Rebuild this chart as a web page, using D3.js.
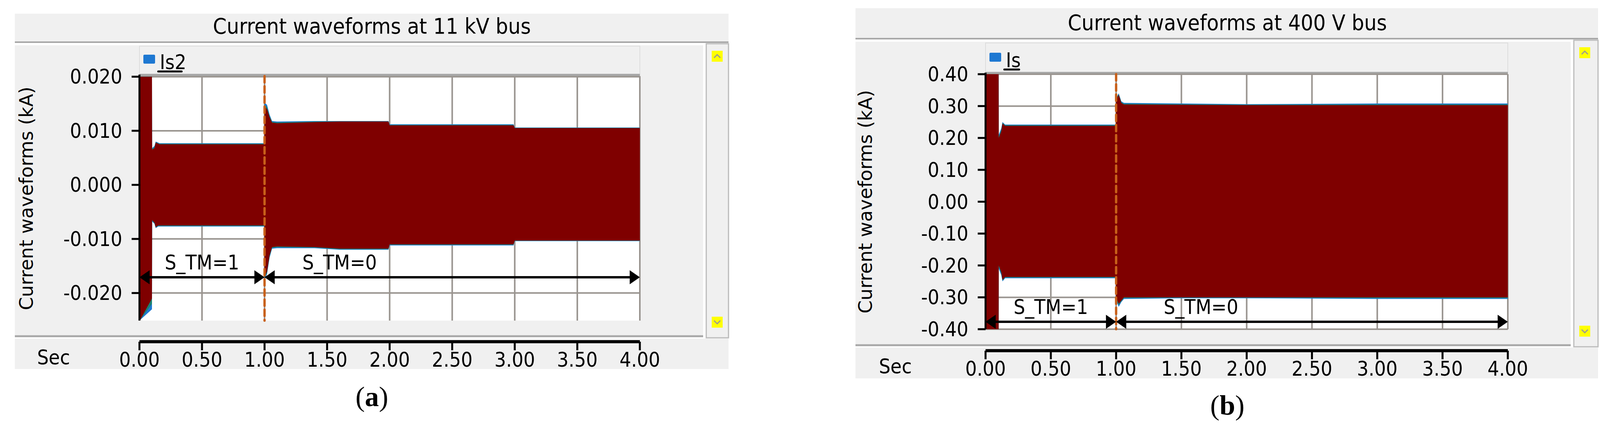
<!DOCTYPE html>
<html><head><meta charset="utf-8">
<script src="https://cdn.jsdelivr.net/npm/d3@7/dist/d3.min.js"></script>
<style>body{margin:0;background:#fff}svg{display:block}</style>
</head><body>
<svg id="c" width="4110" height="1096"></svg>
<script>
// ---- data ----
const xTicks = [0,0.5,1,1.5,2,2.5,3,3.5,4];
const yTicksA = [0.02,0.01,0,-0.01,-0.02];
const yTicksB = [0.4,0.3,0.2,0.1,0,-0.1,-0.2,-0.3,-0.4];
// envelope of panel (a) Is2, kA
const timeA  = [0,0.005,0.1,0.101,0.12,0.13,0.15,0.16,0.5,0.999,1.0,1.02,1.04,1.06,1.1,1.4,1.6,1.99,2.0,2.99,3.0,4.0];
const upperA = [0.020,0.020,0.020,0.0065,0.0068,0.0078,0.0076,0.0075,0.0075,0.0075,0.0145,0.0140,0.0125,0.0115,0.0114,0.0116,0.0117,0.0117,0.0110,0.0110,0.0105,0.0105];
const lowerA = [-0.025,-0.025,-0.021,-0.0065,-0.0070,-0.0078,-0.0075,-0.0075,-0.0075,-0.0075,-0.0170,-0.0160,-0.0130,-0.0115,-0.0114,-0.0115,-0.0118,-0.0118,-0.0110,-0.0110,-0.0103,-0.0103];
const tealUpA = [0.020,0.020,0.020,0.0068,0.0072,0.0080,0.0078,0.0077,0.0077,0.0077,0.0152,0.0148,0.0130,0.0118,0.0117,0.0118,0.0118,0.0118,0.0112,0.0112,0.0106,0.0106];
const tealLoA = [-0.025,-0.025,-0.023,-0.0068,-0.0072,-0.0080,-0.0077,-0.0077,-0.0077,-0.0077,-0.0175,-0.0165,-0.0135,-0.0118,-0.0117,-0.0117,-0.0120,-0.0120,-0.0112,-0.0112,-0.0104,-0.0104];
// envelope of panel (b) Is, kA
const timeB  = [0,0.005,0.1,0.101,0.12,0.13,0.15,0.2,0.5,0.999,1.0,1.02,1.04,1.06,1.5,2.0,3.0,4.0];
const upperB = [0.40,0.40,0.40,0.20,0.22,0.245,0.238,0.238,0.238,0.238,0.32,0.335,0.31,0.305,0.304,0.303,0.303,0.303];
const lowerB = [-0.40,-0.40,-0.40,-0.20,-0.22,-0.245,-0.236,-0.236,-0.236,-0.236,-0.30,-0.32,-0.31,-0.30,-0.30,-0.30,-0.30,-0.30];
const tealUpB = [0.40,0.40,0.40,0.21,0.23,0.25,0.242,0.242,0.242,0.242,0.325,0.34,0.315,0.31,0.308,0.306,0.308,0.308];
const tealLoB = [-0.40,-0.40,-0.40,-0.21,-0.23,-0.25,-0.24,-0.24,-0.24,-0.24,-0.31,-0.33,-0.315,-0.305,-0.303,-0.303,-0.305,-0.305];

const svg = d3.select('#c');
const narrow = '"Liberation Sans Narrow","DejaVu Sans Condensed",sans-serif';

function panel(o){
  const g = svg.append('g');
  g.append('rect').attr('x',o.fx).attr('y',o.tTop).attr('width',o.fr-o.fx).attr('height',o.tBot-o.tTop).attr('fill','#f0f0f0');
  g.append('line').attr('x1',o.fx).attr('x2',o.fr).attr('y1',o.tBot).attr('y2',o.tBot).attr('stroke','#a8a8a8').attr('stroke-width',4);
  g.append('text').attr('x',o.tcx).attr('y',o.tBot-22).attr('text-anchor','middle')
    .attr('font-family',narrow).attr('font-size',56).text(o.title);
  g.append('rect').attr('x',o.fx).attr('y',o.tBot+8).attr('width',o.sbx-o.fx-8).attr('height',o.iBot-o.tBot-8).attr('fill','#f0f0f0');
  g.append('line').attr('x1',o.fx).attr('x2',o.sbx-8).attr('y1',o.iBot).attr('y2',o.iBot).attr('stroke','#a8a8a8').attr('stroke-width',5);
  g.append('rect').attr('x',o.sbx).attr('y',o.tBot+4).attr('width',o.fr-o.sbx).attr('height',o.iBot-o.tBot).attr('fill','#f0f0f0').attr('stroke','#bbb').attr('stroke-width',3);
  [o.tBot+22, o.iBot-50].forEach((yy,i)=>{
    g.append('rect').attr('x',o.sbx+14).attr('y',yy).attr('width',28).attr('height',28).attr('fill','#ffff00');
    g.append('path').attr('d', i===0 ? `M${o.sbx+20},${yy+18} l8,-8 l8,8` : `M${o.sbx+20},${yy+10} l8,8 l8,-8`)
      .attr('fill','none').attr('stroke','#999').attr('stroke-width',3);
  });
  g.append('rect').attr('x',o.px0).attr('y',o.lTop).attr('width',o.px1-o.px0).attr('height',o.py0-o.lTop).attr('fill','#f0f0f0').attr('stroke','#ddd').attr('stroke-width',2);
  g.append('line').attr('x1',o.px0).attr('x2',o.px1).attr('y1',o.py0-3).attr('y2',o.py0-3).attr('stroke','#a8a8a8').attr('stroke-width',6);
  g.append('rect').attr('x',o.px0+10).attr('y',o.py0-55).attr('width',30).attr('height',23).attr('rx',3).attr('fill','#1e78d2');
  g.append('text').attr('x',o.px0+52).attr('y',o.py0-18).attr('font-family',narrow).attr('font-size',52).text(o.legend);
  g.append('line').attr('x1',o.px0+48).attr('x2',o.px0+48+o.ulw).attr('y1',o.py0-12).attr('y2',o.py0-12).attr('stroke','#000').attr('stroke-width',5).attr('stroke-linecap','round');

  const x = d3.scaleLinear().domain([0,4]).range([o.px0,o.px1]);
  const y = d3.scaleLinear().domain(o.ydom).range([o.py1,o.py0]);
  g.append('rect').attr('x',o.px0).attr('y',o.py0).attr('width',o.px1-o.px0).attr('height',o.py1-o.py0).attr('fill','#fff');
  g.selectAll('.vg').data(xTicks.slice(1)).enter().append('line').attr('x1',d=>x(d)).attr('x2',d=>x(d))
    .attr('y1',o.py0).attr('y2',o.py1).attr('stroke','#9a9590').attr('stroke-width',4);
  g.selectAll('.hg').data(o.yticks).enter().append('line').attr('x1',o.px0).attr('x2',o.px1)
    .attr('y1',d=>y(d)).attr('y2',d=>y(d)).attr('stroke','#9a9590').attr('stroke-width',4);
  const clip = 'clip'+o.id;
  g.append('clipPath').attr('id',clip).append('rect').attr('x',o.px0).attr('y',o.py0).attr('width',o.px1-o.px0).attr('height',o.py1-o.py0);
  const wg = g.append('g').attr('clip-path',`url(#${clip})`);
  const ta = d3.area().x((d,i)=>x(o.t[i])).y0((d,i)=>y(o.tlo[i])).y1((d,i)=>y(o.tup[i]));
  wg.append('path').datum(o.t).attr('d',ta).attr('fill','#1e78d2');
  const tb = d3.area().x((d,i)=>x(o.t[i])).y0((d,i)=>y((o.tlo[i]+o.lo[i])/2)).y1((d,i)=>y((o.tup[i]+o.up[i])/2));
  wg.append('path').datum(o.t).attr('d',tb).attr('fill','#1a8070');
  const ma = d3.area().x((d,i)=>x(o.t[i])).y0((d,i)=>y(o.lo[i])).y1((d,i)=>y(o.up[i]));
  wg.append('path').datum(o.t).attr('d',ma).attr('fill','#7f0000');
  g.append('line').attr('x1',o.px0).attr('x2',o.px0).attr('y1',o.py0-4).attr('y2',o.py1).attr('stroke','#000').attr('stroke-width',5);
  const ya = g.append('g');
  ya.selectAll('line').data(o.yticks).enter().append('line').attr('x1',o.px0-20).attr('x2',o.px0).attr('y1',d=>y(d)).attr('y2',d=>y(d)).attr('stroke','#000').attr('stroke-width',5);
  ya.selectAll('text').data(o.yticks).enter().append('text').attr('x',o.px0-44).attr('y',d=>y(d)+18).attr('text-anchor','end')
    .attr('font-family',narrow).attr('font-size',52).text(d=>d3.format(o.fmt)(d).replace('−','-'));
  g.append('text').attr('transform',`translate(${o.ylx},${(o.py0+o.py1)/2}) rotate(-90)`).attr('text-anchor','middle')
    .attr('font-family','"DejaVu Sans",sans-serif').attr('font-size',48).text('Current waveforms (kA)');
  g.append('line').attr('x1',x(1)).attr('x2',x(1)).attr('y1',o.py0).attr('y2',o.py1).attr('stroke','#c8601a').attr('stroke-width',6).attr('stroke-dasharray','16,10').attr('stroke-linecap','round');
  const ah = (xx,dir)=>`M${xx},${o.ay} l${-dir*26},-18 l0,36 Z`;
  [[0,1],[1,4]].forEach(([a,b])=>{
    g.append('line').attr('x1',x(a)+20).attr('x2',x(b)-20).attr('y1',o.ay).attr('y2',o.ay).attr('stroke','#000').attr('stroke-width',6);
    g.append('path').attr('d',ah(x(a),-1)).attr('fill','#000');
    g.append('path').attr('d',ah(x(b),1)).attr('fill','#000');
  });
  g.append('text').attr('x',x(o.l1)).attr('y',o.ay-20).attr('text-anchor','middle').attr('font-family',narrow).attr('font-size',52).text('S_TM=1');
  g.append('text').attr('x',x(o.l2)).attr('y',o.ay-20).attr('text-anchor','middle').attr('font-family',narrow).attr('font-size',52).text('S_TM=0');
  g.append('rect').attr('x',o.fx).attr('y',o.iBot+6).attr('width',o.fr-o.fx).attr('height',o.xBot-o.iBot-6).attr('fill','#f0f0f0');
  g.append('line').attr('x1',o.px0).attr('x2',o.px1).attr('y1',o.iBot+14).attr('y2',o.iBot+14).attr('stroke','#000').attr('stroke-width',8);
  g.selectAll('.xt').data(xTicks).enter().append('line').attr('x1',d=>x(d)).attr('x2',d=>x(d)).attr('y1',o.iBot+14).attr('y2',o.iBot+36).attr('stroke','#000').attr('stroke-width',5);
  g.selectAll('.xl').data(xTicks).enter().append('text').attr('x',d=>x(d)).attr('y',o.iBot+78).attr('text-anchor','middle')
    .attr('font-family',narrow).attr('font-size',52).text(d=>d3.format('.2f')(d));
  g.append('text').attr('x',o.secx).attr('y',o.iBot+72).attr('text-anchor','middle').attr('font-family',narrow).attr('font-size',52).text('Sec');
  const cap = g.append('text').attr('x',o.tcx).attr('y',o.capy).attr('text-anchor','middle').attr('font-family','"Liberation Serif",serif').attr('font-size',72);
  cap.append('tspan').text('(');
  cap.append('tspan').attr('font-weight','bold').text(o.cap);
  cap.append('tspan').text(')');
}

panel({id:'a',cap:'a',fx:38,fr:1865,tTop:35,tBot:108,tcx:952,title:'Current waveforms at 11 kV bus',sbx:1808,iBot:861,
  lTop:118,px0:357,px1:1638,py0:195,py1:821,legend:'Is2',ulw:60,ydom:[-0.0251,0.0201],yticks:yTicksA,fmt:'.3f',ylx:84,
  t:timeA,up:upperA,lo:lowerA,tup:tealUpA,tlo:tealLoA,ay:710,l1:0.5,l2:1.6,xBot:945,secx:137,capy:1040});
panel({id:'b',cap:'b',fx:2190,fr:4091,tTop:21,tBot:99,tcx:3142,title:'Current waveforms at 400 V bus',sbx:4029,iBot:884,
  lTop:110,px0:2523,px1:3860,py0:190,py1:843,legend:'Is',ulw:38,ydom:[-0.40,0.40],yticks:yTicksB,fmt:'.2f',ylx:2232,
  t:timeB,up:upperB,lo:lowerB,tup:tealUpB,tlo:tealLoB,ay:824,l1:0.5,l2:1.65,xBot:969,secx:2292,capy:1062});
</script>
</body></html>
